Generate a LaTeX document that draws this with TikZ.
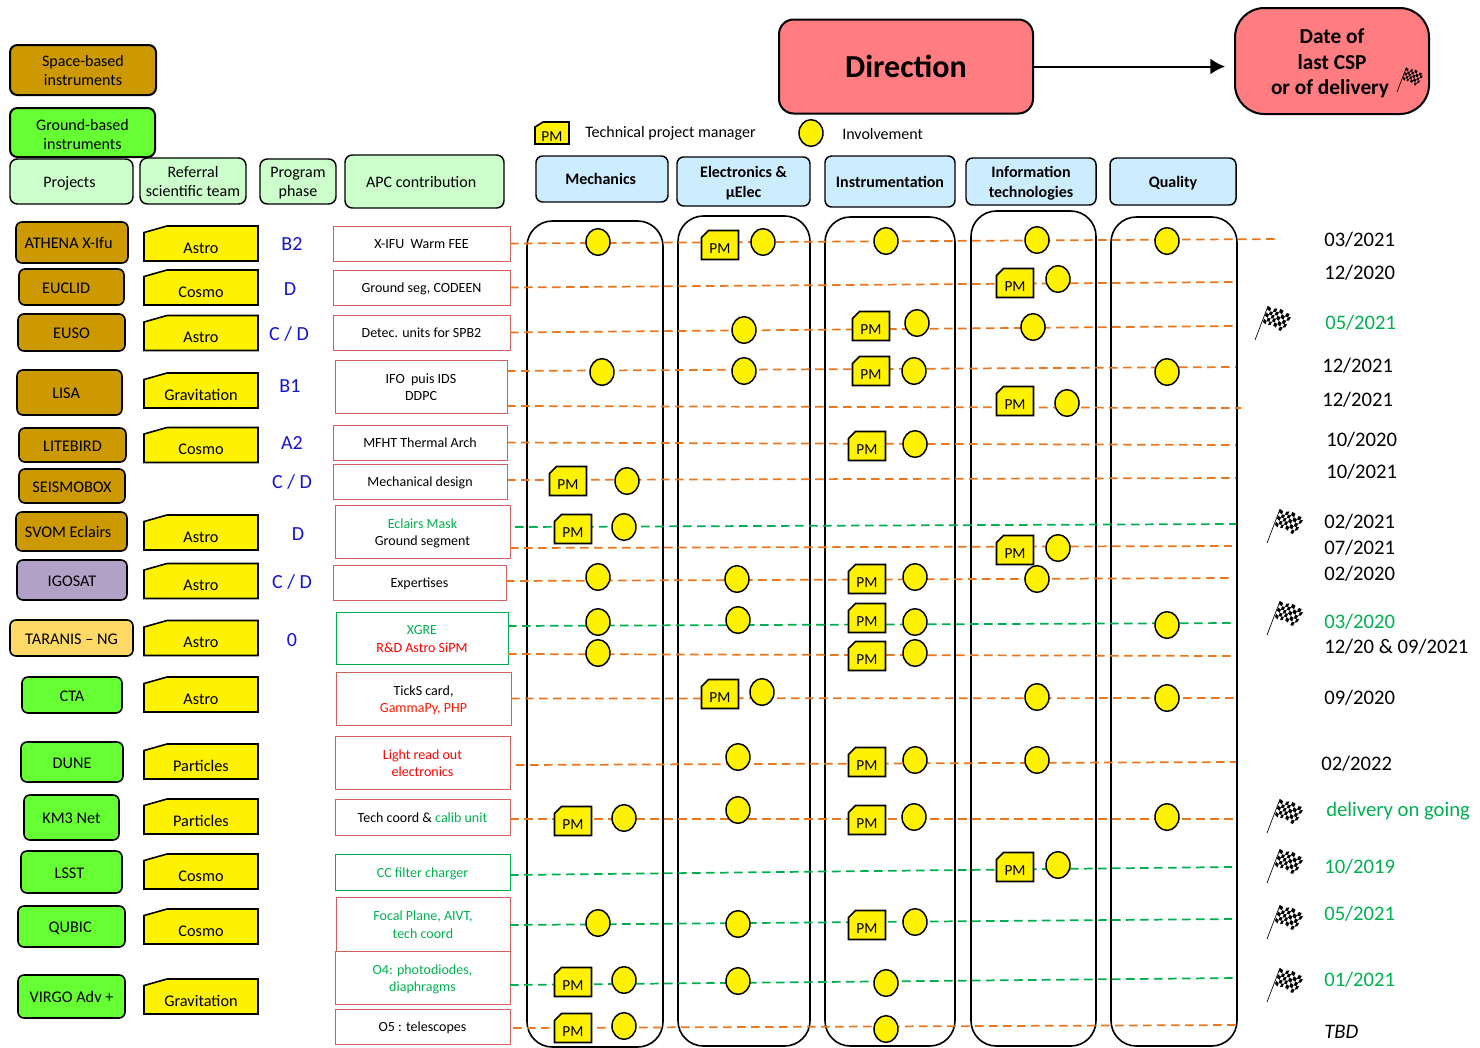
\documentclass[tikz,border=0pt]{standalone}
\usepackage{fontspec}
\setmainfont{Carlito}
\usetikzlibrary{arrows.meta,shapes.geometric}

\definecolor{spacebrown}{HTML}{CC9900}
\definecolor{groundgreen}{HTML}{66FF33}
\definecolor{headgreen}{HTML}{CCFFCC}
\definecolor{headblue}{HTML}{CCECFF}
\definecolor{dirred}{HTML}{FF7C80}
\definecolor{lavend}{HTML}{B2A1C7}
\definecolor{taranisorange}{HTML}{FFD966}
\definecolor{rowgreen}{HTML}{00B050}
\definecolor{roworange}{HTML}{E8771E}
\definecolor{apcred}{HTML}{D06060}
\definecolor{phaseblue}{HTML}{1414D2}

\newcommand{\fs}[2]{\fontsize{#1}{#2}\selectfont}
% text set a little below the middle of its box
\newcommand{\lowbox}[2][3pt]{\vbox{\vskip #1\hbox{\begin{tabular}{@{}c@{}}#2\end{tabular}}}}

\tikzset{
 wh/.style 2 args={minimum width=#1*0.75pt,minimum height=#2*0.75pt,inner sep=0pt,outer sep=0pt},
 legendbox/.style={draw=black,line width=1.5pt,rounded corners=5.5pt,font=\fs{12}{14}},
 headbox/.style={draw=black,line width=1.1pt,rounded corners=5.5pt,fill=headgreen,font=\fs{12}{14}},
 skillbox/.style={draw=black,line width=1.1pt,rounded corners=5pt,fill=headblue,font=\fs{12}{14.5}\bfseries},
 projbox/.style={draw=black,line width=1.2pt,rounded corners=4.5pt,font=\fs{12.2}{13}},
 teamlbl/.style={inner sep=0pt,text height=14.5pt,text depth=0pt,font=\fs{12.2}{14}},
 apcbox/.style={draw=apcred,line width=0.7pt,font=\fs{10.5}{13}},
 lanebox/.style={draw=black,line width=1.2pt,rounded corners=19pt},
 rowline/.style={line width=1.3pt,dash pattern=on 6.5pt off 4pt},
 involve/.style={draw=black,line width=1.1pt,fill=yellow,ellipse,minimum width=18pt,minimum height=20pt,inner sep=0pt},
 snipline/.style={draw=black,line width=1.2pt,fill=yellow,line join=miter},
 pmlbl/.style={inner sep=0pt,text height=12.2pt,text depth=0pt,font=\fs{11.5}{13}},
 datelbl/.style={anchor=west,inner sep=0pt,font=\fs{15.5}{18}},
 phaselbl/.style={text=phaseblue,inner sep=0pt,font=\fs{15}{18}},
 teamshape/.pic={\draw[snipline] (-57,17.5)--(57,17.5)--(57,-17.5)--(-34,-17.5)--(-57,-11)--cycle;},
 pmshape/.pic={\draw[snipline] (-18.5,14.5)--(18.5,14.5)--(18.5,-14.5)--(-11.5,-14.5)--(-18.5,-7.5)--cycle;},
 smallpmshape/.pic={\draw[snipline] (-17,11)--(17,11)--(17,-11)--(-9,-11)--(-17,-6)--cycle;},
 flagmark/.pic={
  \draw[line width=0.5pt] (0,0)--(13,-34);
  \foreach \i in {0,...,7} \foreach \j in {0,...,4} {
   \pgfmathtruncatemacro\chk{mod(\i+\j,2)}
   \ifnum\chk=0
    \fill ({fx(\i,\j)},{fy(\i,\j)})--({fx(\i+1,\j)},{fy(\i+1,\j)})--({fx(\i+1,\j+1)},{fy(\i+1,\j+1)})--({fx(\i,\j+1)},{fy(\i,\j+1)})--cycle;
   \fi
  }
 },
 declare function={
  fx(\a,\b)=13+3.1*\a-1.0*\b-0.11*\a*\b;
  fy(\a,\b)=-34+1*\a+3.2*\b+0.03*\a*\b+1.2*sin(70*\a);
 }
}

\begin{document}
\begin{tikzpicture}[x=0.75pt,y=-0.75pt]
\useasboundingbox (0,0) rectangle (1480,1047);

% top boxes
\node[wh={254}{94},draw=black,line width=1.5pt,rounded corners=11pt,fill=dirred,font=\fs{24}{28}\bfseries] (direction) at (906,66.5) {Direction};
\node[wh={194}{106},draw=black,line width=1.5pt,rounded corners=22pt,fill=dirred,font=\fs{16}{19}\bfseries] (lastdate) at (1332,61) {\lowbox[4.5pt]{Date of\\last CSP\\or of delivery\kern3pt}};
\draw[-{Latex[length=11pt,width=12pt]},line width=1.5pt,shorten >=7.5pt] (direction) -- (direction -| lastdate.west);
\pic[scale=0.72] at (1397,92) {flagmark};

% legends and column heads
\node[legendbox,wh={146}{50},fill=spacebrown] (spacelegend) at (83,70) {\lowbox{Space-based\\instruments}};
\node[legendbox,wh={145}{49},fill=groundgreen] (groundlegend) at (82.5,132.5) {\lowbox[6pt]{Ground-based\\instruments}};
\node[headbox,wh={123}{45}] (headproj) at (71.5,181.5) {\lowbox{Projects\kern3pt}};
\node[headbox,wh={106}{46}] (headteam) at (193,181) {\lowbox{Referral\\scientific team}};
\node[headbox,wh={76}{45}] (headphase) at (298,181.5) {\lowbox{Program\\phase}};
\node[headbox,wh={159}{53}] (headapc) at (424.5,181.5) {\lowbox{APC contribution\kern5pt}};

\pic at (552,133) {smallpmshape};
\node[pmlbl] (legendpm) at (552,133) {PM};
\node[anchor=west,inner sep=0pt,font=\fs{12}{13}] (legendpmtxt) at (585,133.5) {Technical project manager};
\node[involve] (legendinv) at (811,133) {};
\node[anchor=west,inner sep=0pt,font=\fs{12}{13}] (legendinvtxt) at (842,133.5) {Involvement};

\foreach \n/\x/\y/\w/\h/\txt in {
 mech/602/179/132/46/Mechanics\kern2pt,
 elec/743.5/181.5/133/49/{Electronics \&\\µElec},
 instr/890/181.5/130/51/Instrumentation,
 info/1031/181.5/130/47/{Information\\technologies},
 qual/1173/181.5/126/47/Quality}
 \node[skillbox,wh={\w}{\h}] (head\n) at (\x,\y) {\lowbox{\txt}};

% lanes
\foreach \n/\x/\y/\w/\h in {
 mech/595/634/136/826,
 elec/744/631/132/830,
 instr/890/631.5/130/829,
 info/1033.5/628.5/125/835,
 qual/1174/631.5/126/829}
 \node[lanebox,wh={\w}{\h}] (lane\n) at (\x,\y) {};

% projects
\foreach \n/\x/\y/\w/\h/\col/\txt in {
 athena/72/242.5/112/41/spacebrown/ATHENA X-Ifu\kern5pt,
 euclid/71.5/287/105/36/spacebrown/EUCLID\kern8pt,
 euso/71.5/332.5/107/37/spacebrown/EUSO,
 lisa/69.5/392.5/105/45/spacebrown/LISA\kern5pt,
 litebird/72.5/445/107/34/spacebrown/LITEBIRD,
 seismobox/72/486/106/34/spacebrown/SEISMOBOX,
 svom/71.5/531.5/111/39/spacebrown/SVOM Eclairs\kern5pt,
 igosat/72/580/110/40/lavend/IGOSAT,
 taranis/71.5/638/123/36/taranisorange/TARANIS – NG,
 cta/72/695/100/36/groundgreen/CTA,
 dune/72/762/102/40/groundgreen/DUNE,
 kmnet/71.5/817.5/95/45/groundgreen/KM3 Net,
 lsst/71.5/872/101/42/groundgreen/LSST\kern3pt,
 qubic/71.5/926.5/107/41/groundgreen/QUBIC\kern2pt,
 virgo/71.5/996.5/107/43/groundgreen/VIRGO Adv +}
 \node[projbox,wh={\w}{\h},fill=\col] (proj\n) at (\x,\y) {\lowbox[4.5pt]{\txt}};

% referral teams
\foreach \n/\y/\txt in {
 athena/243.5/Astro,euclid/287.5/Cosmo,euso/333/Astro,lisa/390.5/Gravitation,
 litebird/445/Cosmo,svom/532.5/Astro,igosat/581/Astro,taranis/638/Astro,
 cta/694.5/Astro,dune/761.5/Particles,kmnet/816.5/Particles,lsst/871.5/Cosmo,
 qubic/926.5/Cosmo,virgo/996.5/Gravitation}
{
 \pic at (201,\y) {teamshape};
 \node[teamlbl] (team\n) at (201,\y) {\txt};
}

% program phases
\foreach \n/\x/\y/\txt in {
 athena/292/244/B2,euclid/290/289/D,euso/289/334/{C / D},lisa/290/386/B1,
 litebird/292/443/A2,seismobox/292/482/{C / D},svom/298/534/D,igosat/292/582/{C / D},
 taranis/292/640/0}
 \node[phaselbl] (phase\n) at (\x,\y) {\txt};

% APC contributions
\foreach \n/\x/\y/\w/\h/\col/\txt in {
 athena/421.5/243.5/177/35/apcred/{X-IFU\ \ Warm FEE},
 euclid/421.5/287.5/177/35/apcred/{Ground seg, CODEEN},
 euso/421.5/332.5/177/35/apcred/{Detec. units for SPB2},
 lisa/421/386.5/172/53/apcred/{IFO\ \ puis IDS\\DDPC},
 litebird/420/442.5/174/35/apcred/{MFHT Thermal Arch},
 seismobox/420/481.5/174/35/apcred/{Mechanical design},
 svom/422.5/531.5/175/53/apcred/{\textcolor{rowgreen}{Eclairs Mask}\\Ground segment},
 igosat/419.5/582.5/173/35/apcred/{Expertises},
 taranis/422/638/172/52/rowgreen/{\textcolor{rowgreen}{XGRE}\\\textcolor{red}{R\&D Astro SiPM}},
 cta/423.5/698.5/175/53/apcred/{TickS card,\\\textcolor{red!80!orange}{GammaPy, PHP}},
 dune/422.5/762.5/175/53/apcred/{\textcolor{red}{Light read out}\\\textcolor{red}{electronics}},
 kmnet/422.5/817/175/36/apcred/{Tech coord \& \textcolor{rowgreen}{calib unit}},
 lsst/422.5/872/175/36/rowgreen/{\textcolor{rowgreen}{CC filter charger}},
 qubic/423/924/174/54/apcred/{\textcolor{rowgreen}{Focal Plane, AIVT,}\\\textcolor{rowgreen}{tech coord}},
 virgo/422.5/977.5/175/53/apcred/{\textcolor{rowgreen}{O4: photodiodes,}\\\textcolor{rowgreen}{diaphragms}},
 ofive/422.5/1026.5/175/35/apcred/{O5 : telescopes}}
 \node[apcbox,wh={\w}{\h},draw=\col] (apc\n) at (\x,\y) {\lowbox{\txt}};

% row lines, from the APC box to a free end
\foreach \from/\n/\dx/\dy/\ex/\ey/\col in {
 athena/athena/0/0/1280/239/roworange,
 euclid/euclid/0/0/1236/282/roworange,
 euso/euso/0/0/1236/326/roworange,
 lisa/lisa/0/-15.5/1236/367/roworange,
 lisa/lisb/0/19.5/1241/408/roworange,
 litebird/litebird/0/0/1236/445/roworange,
 seismobox/seismobox/0/-1.5/1236/478/roworange,
 svom/svom/5/-4.5/1236/524/rowgreen,
 svom/svob/0/16.5/1232/546/roworange,
 igosat/igosat/0/-1.5/1232/578/roworange,
 taranis/taranis/0/-12/1236/623/rowgreen,
 taranis/taranib/0/16/1236/656/roworange,
 cta/cta/0/0/1236/698/roworange,
 dune/dune/6/2.5/1236/762/roworange,
 kmnet/kmnet/0/2/1236/819/roworange,
 lsst/lsst/0/3/1232/867/rowgreen,
 qubic/qubic/0/1/1232/919/rowgreen,
 virgo/virgo/0/7.5/1236/978/rowgreen,
 ofive/ofive/3/1.5/1236/1025/roworange}
{
 \coordinate (end\n) at (\ex,\ey);
 \draw[rowline,\col] ([shift={(\dx,\dy)}]apc\from.east) -- (end\n);
}

% involvement marks
\foreach \x/\y [count=\k] in {
 598/242,763/242,886/241,1037/240,1167/241,1058/279,744/330,917/323,1033/327,
 602/372,744/371,914/371,1167/372,1067/403,915/444,627/481,624/527,1058/548,
 598/577,737/579,915/577,1037/579,598/622,738/620,915/622,1167/625,598/653,915/653,
 762/692,1037/697,1167/698,738/757,915/760,1037/760,624/818,738/810,914/817,1167/817,
 1058/865,598/923,738/924,915/922,624/980,738/981,886/983,624/1026,886/1029}
 \node[involve] (inv\k) at (\x,\y) {};

% technical project managers
\foreach \x/\y [count=\k] in {
 720/245,1015/283,871/326,871/371,1015/401,867/446,568/481,573/529,1015/550,867/579,
 867/618,867/656,720/694,867/762,573/821,867/820,1015/867,867/925,573/982,573/1028}
{
 \pic at (\x,\y) {pmshape};
 \node[pmlbl] (pm\k) at (\x,\y) {PM};
}

% dates
\foreach \n/\x/\y/\col/\txt in {
 athena/1324/240/black/03\slash 2021,
 euclid/1324/273/black/12\slash 2020,
 euso/1325/323/rowgreen/05\slash 2021,
 lisa/1322/366/black/12\slash 2021,
 lisb/1322/400/black/12\slash 2021,
 litebird/1326/440/black/10\slash 2020,
 seismobox/1326/472/black/10\slash 2021,
 svom/1324/522/black/02\slash 2021,
 svob/1324/548/black/07\slash 2021,
 igosat/1324/574/black/02\slash 2020,
 taranis/1324/622/rowgreen/03\slash 2020,
 taranib/1324/647/black/12\slash 20 \& 09\slash 2021,
 cta/1324/698/black/09\slash 2020,
 dune/1321/764/black/02\slash 2022,
 kmnet/1326/811/rowgreen/delivery on going,
 lsst/1324/867/rowgreen/10\slash 2019,
 qubic/1324/914/rowgreen/05\slash 2021,
 virgo/1324/980/rowgreen/01\slash 2021,
 ofive/1324/1032/black/\textit{TBD}}
 \node[datelbl,text=\col] (date\n) at (\x,\y) {\txt};

% flags
\foreach \x/\y in {1255/340,1267/543,1267/635,1267/833,1267/883,1267/939,1267/1002}
 \pic at (\x,\y) {flagmark};

\end{tikzpicture}
\end{document}
